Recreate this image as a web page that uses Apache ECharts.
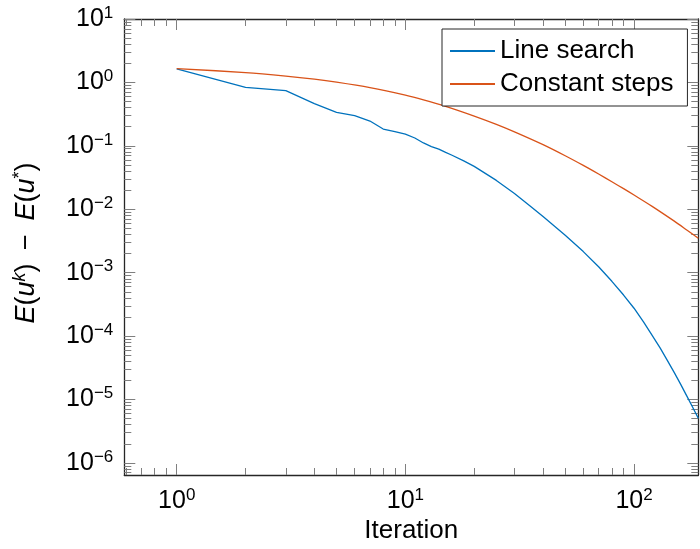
<!DOCTYPE html>
<html><head><meta charset="utf-8">
<script src="https://cdn.jsdelivr.net/npm/echarts@6/dist/echarts.min.js"></script>
<style>html,body{margin:0;padding:0;background:#fff}#c{width:700px;height:549px}</style>
</head><body><div id="c"></div>
<script>
// ---- data ----
const iterLS = [1,2,3,4,5,6,7,8,9,10,11,12,13,14,15,16,18,20,25,30,35,40,50,60,70,80,90,100,110,120,130,140,150,160,170,180,191];
const valLS  = [1.63,0.838,0.74,0.464,0.337,0.30,0.246,0.184,0.168,0.153,0.133,0.111,0.0975,0.089,0.0787,0.0711,0.0578,0.0475,0.0285,0.01774,0.0114,0.00767,0.0039,0.00215,0.00124,0.000731,0.000444,0.000275,0.000168,0.0001026,6.52e-5,4.10e-5,2.65e-5,1.73e-5,1.14e-5,7.69e-6,5.05e-6];
const iterCS = [1,2,3,4,5,7,10,12,15,20,25,30,40,50,60,70,80,90,100,120,150,170,191];
const valCS  = [1.656,1.428,1.257,1.123,1.007,0.825,0.630,0.532,0.4198,0.2951,0.2183,0.1663,0.1045,0.0698,0.0491,0.0359,0.0271,0.02113,0.01675,0.01111,0.00649,0.00471,0.00348];
const seriesNames = ['Line search','Constant steps'];

const xMajorTicks = [1,10,100];
const xMajorLabels = ['0','1','2'];
const yMajorTicks = [1e-6,1e-5,1e-4,1e-3,1e-2,1e-1,1,10];
const yMajorLabels = ['\u22126','\u22125','\u22124','\u22123','\u22122','\u22121','0','1'];
const xRange = [0.59, 191];
const yRange = [6.45e-7, 10];

const xMinorTicks = [];
[0.1,1,10].forEach(d => { for (let m=2;m<=9;m++) xMinorTicks.push(+(m*d).toPrecision(3)); });
const yMinorTicks = [];
for (let e=-7;e<=0;e++) { for (let m=2;m<=9;m++) yMinorTicks.push(+(m*Math.pow(10,e)).toPrecision(3)); }

const FONT = '"Liberation Sans", Arial, Helvetica, sans-serif';
const rich = {
  b: {fontSize:25, fontFamily:FONT, color:'#000'},
  s: {fontSize:17, fontFamily:FONT, color:'#000', padding:[0,0,12,0]}
};
const TICK_COLOR = '#7f7f7f';
const LINE_COLOR = '#262626';

function axis(dim, pos, opts) {
  const isX = dim === 'x';
  const range = isX ? xRange : yRange;
  return Object.assign({
    type:'log', logBase:10, min:range[0], max:range[1], position:pos, gridIndex:0,
    splitLine:{show:false}, minorTick:{show:false}, minorSplitLine:{show:false},
    axisLine:{show:false},
    axisLabel:{show:false},
    axisTick:{show:false},
    nameMoveOverlap:false
  }, opts);
}
function major(dim, pos, withLabels) {
  const isX = dim === 'x';
  const ticks = isX ? xMajorTicks : yMajorTicks;
  const labels = isX ? xMajorLabels : yMajorLabels;
  const o = {
    axisLine:{show:true, onZero:false, lineStyle:{color:LINE_COLOR, width:1.3}},
    axisTick:{show:true, inside:true, length:11, customValues:ticks, lineStyle:{color:TICK_COLOR, width:1}}
  };
  if (withLabels) {
    o.axisLabel = {
      show:true, customValues:ticks, margin: isX ? 12 : 11,
      formatter: function(v){
        let idx = 0, best = Infinity;
        ticks.forEach((t,i)=>{ const d=Math.abs(Math.log10(t)-Math.log10(v)); if(d<best){best=d;idx=i;} });
        return '{b|10}{s|' + labels[idx] + '}';
      },
      rich: rich
    };
  }
  return axis(dim, pos, o);
}
function minor(dim, pos) {
  const ticks = dim === 'x' ? xMinorTicks : yMinorTicks;
  return axis(dim, pos, {
    axisTick:{show:true, inside:true, length:7, customValues:ticks, lineStyle:{color:TICK_COLOR, width:1}}
  });
}

const xBottom = major('x','bottom',true);
xBottom.name = 'Iteration';
xBottom.nameLocation = 'middle';
xBottom.nameGap = 43;
xBottom.nameTextStyle = {fontSize:26, fontFamily:FONT, color:'#000'};

const yLeft = major('y','left',true);
yLeft.name = '{pad|}{i|E}({i|u}{ski|k})\u2002\u2212\u2002{i|E}({i|u}{sk|*})';
yLeft.nameLocation = 'middle';
yLeft.nameRotate = 90;
yLeft.nameGap = 82;
yLeft.nameTextStyle = {
  fontSize:27, fontFamily:FONT, color:'#000',
  rich:{
    i:{fontSize:27, fontFamily:FONT, fontStyle:'italic', color:'#000'},
    ski:{fontSize:18, fontFamily:FONT, fontStyle:'italic', color:'#000', padding:[0,0,13,0]},
    sk:{fontSize:18, fontFamily:FONT, color:'#000', padding:[0,0,13,0]},
    pad:{width:8}
  }
};

const chart = echarts.init(document.getElementById('c'), null, {renderer:'canvas'});
chart.setOption({
  animation:false,
  backgroundColor:'#fff',
  grid:{left:124.3, right:1.7, top:19, bottom:73.7, containLabel:false},
  xAxis:[xBottom, minor('x','bottom'), major('x','top',false), minor('x','top')],
  yAxis:[yLeft, minor('y','left'), major('y','right',false), minor('y','right')],
  legend:{
    orient:'vertical', left:442, top:29,
    padding:[9,14,9,8], itemGap:7, itemWidth:45, itemHeight:2, icon:'rect',
    borderColor:LINE_COLOR, borderWidth:1, backgroundColor:'#fff', borderRadius:0,
    textStyle:{fontSize:26, fontFamily:FONT, color:'#000', lineHeight:26},
    data:seriesNames
  },
  series:[
    {name:seriesNames[0], type:'line', xAxisIndex:0, yAxisIndex:0, showSymbol:false, symbol:'none',
     color:'#0072BD', lineStyle:{width:1.3, color:'#0072BD'},
     data: iterLS.map((x,i)=>[x, valLS[i]])},
    {name:seriesNames[1], type:'line', xAxisIndex:0, yAxisIndex:0, showSymbol:false, symbol:'none', smooth:0.3,
     color:'#D95319', lineStyle:{width:1.3, color:'#D95319'},
     data: iterCS.map((x,i)=>[x, valCS[i]])}
  ]
});
</script></body></html>
